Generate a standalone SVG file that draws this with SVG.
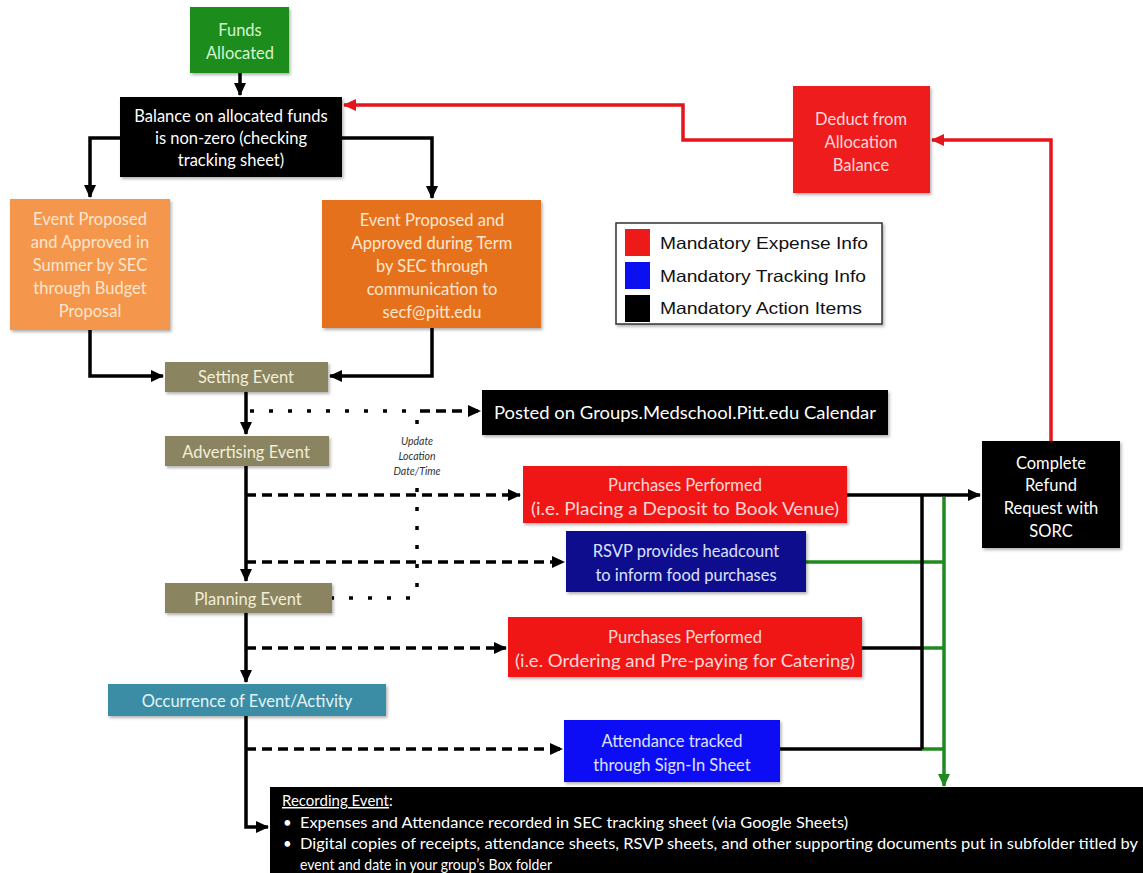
<svg xmlns="http://www.w3.org/2000/svg" width="1143" height="873" viewBox="0 0 1143 873">
<style>
.t{font-family:Lato,"Liberation Sans",sans-serif;font-size:16.5px;text-anchor:middle}
.lg{font-family:"Liberation Sans",Arial,sans-serif;font-size:16.5px;fill:#111}
.ln{fill:none;stroke:#000;stroke-width:3.5}
.dash{stroke-dasharray:10 6}
.dot{stroke-dasharray:4 15}
.red{fill:none;stroke:#e3141a;stroke-width:3.5}
.grn{fill:none;stroke:#1f8a1f;stroke-width:3.5}
.box{filter:url(#sh)}
</style>
<defs>
<filter id="sh" x="-10%" y="-10%" width="130%" height="140%"><feDropShadow dx="1.5" dy="2" stdDeviation="1.5" flood-color="#000" flood-opacity="0.3"/></filter>
<marker id="ab" markerUnits="userSpaceOnUse" markerWidth="14" markerHeight="14" refX="12" refY="7" orient="auto"><path d="M0,1 L13,7 L0,13 Z" fill="#000"/></marker>
<marker id="ar" markerUnits="userSpaceOnUse" markerWidth="14" markerHeight="14" refX="12" refY="7" orient="auto"><path d="M0,1 L13,7 L0,13 Z" fill="#e3141a"/></marker>
<marker id="ag" markerUnits="userSpaceOnUse" markerWidth="14" markerHeight="14" refX="12" refY="7" orient="auto"><path d="M0,1 L13,7 L0,13 Z" fill="#1f8a1f"/></marker>
</defs>
<rect width="1143" height="873" fill="#fff"/>

<g id="connectors">
<path class="ln" d="M240,73 V95" marker-end="url(#ab)"/>
<path class="ln" d="M120,138 H90 V197" marker-end="url(#ab)"/>
<path class="ln" d="M342,138 H432 V198" marker-end="url(#ab)"/>
<path class="ln" d="M90,330 V376 H163" marker-end="url(#ab)"/>
<path class="ln" d="M432,328 V376 H330" marker-end="url(#ab)"/>
<path class="ln" d="M246,392 V434" marker-end="url(#ab)"/>
<path class="ln" d="M246,466 V581" marker-end="url(#ab)"/>
<path class="ln" d="M246,613 V682" marker-end="url(#ab)"/>
<path class="ln" d="M246,716 V827 H268" marker-end="url(#ab)"/>
<path class="ln dot" d="M250,411 H418"/>
<path class="ln dash" d="M420,411 H480" marker-end="url(#ab)"/>
<path class="ln dot" d="M417,420 V428"/>
<path class="ln dot" d="M417,488 V598"/>
<path class="ln dot" d="M330,598 H417"/>
<path class="ln dash" d="M246,495 H520" marker-end="url(#ab)"/>
<path class="ln dash" d="M246,562 H564" marker-end="url(#ab)"/>
<path class="ln dash" d="M246,648 H506" marker-end="url(#ab)"/>
<path class="ln dash" d="M246,749 H562" marker-end="url(#ab)"/>
<path class="grn" d="M806,562 H944"/>
<path class="grn" d="M922,648 H944"/>
<path class="grn" d="M922,749 H944"/>
<path class="ln" d="M847,495 H980" marker-end="url(#ab)"/>
<path class="ln" d="M922,495 V749"/>
<path class="ln" d="M862,648 H922"/>
<path class="ln" d="M780,749 H922"/>
<path class="grn" d="M944,497 V786" marker-end="url(#ag)"/>
<path class="red" d="M1051,441 V140 H932" marker-end="url(#ar)"/>
<path class="red" d="M793,140 H683 V105 H344" marker-end="url(#ar)"/>
<text x="417" y="445" font-family="Lato,'Liberation Sans',sans-serif" font-size="10.5" font-style="italic" fill="#333" text-anchor="middle">Update</text>
<text x="417" y="460" font-family="Lato,'Liberation Sans',sans-serif" font-size="10.5" font-style="italic" fill="#333" text-anchor="middle">Location</text>
<text x="417" y="475" font-family="Lato,'Liberation Sans',sans-serif" font-size="10.5" font-style="italic" fill="#333" text-anchor="middle">Date/Time</text>
</g>

<g id="funds">
<rect class="box" x="190" y="7" width="99" height="66" fill="#1e8c1e"/>
<text class="t" x="240" y="36" fill="#d4f5d0">Funds</text>
<text class="t" x="240" y="59" fill="#d4f5d0">Allocated</text>
</g>
<g id="balance">
<rect class="box" x="120" y="97" width="222" height="80" fill="#000"/>
<text class="t" x="231" y="122" fill="#fff">Balance on allocated funds</text>
<text class="t" x="231" y="144" fill="#fff">is non-zero (checking</text>
<text class="t" x="231" y="166" fill="#fff">tracking sheet)</text>
</g>
<g id="summer">
<rect class="box" x="10" y="199" width="160" height="131" fill="#f4964c"/>
<text class="t" x="90" y="225" fill="#fde6d0">Event Proposed</text>
<text class="t" x="90" y="248" fill="#fde6d0">and Approved in</text>
<text class="t" x="90" y="271" fill="#fde6d0">Summer by SEC</text>
<text class="t" x="90" y="294" fill="#fde6d0">through Budget</text>
<text class="t" x="90" y="317" fill="#fde6d0">Proposal</text>
</g>
<g id="term">
<rect class="box" x="322" y="200" width="219" height="128" fill="#e6711d"/>
<text class="t" x="432" y="226" fill="#fde6d0">Event Proposed and</text>
<text class="t" x="432" y="249" fill="#fde6d0">Approved during Term</text>
<text class="t" x="432" y="272" fill="#fde6d0">by SEC through</text>
<text class="t" x="432" y="295" fill="#fde6d0">communication to</text>
<text class="t" x="432" y="318" fill="#fde6d0">secf@pitt.edu</text>
</g>
<g id="deduct">
<rect class="box" x="793" y="86" width="137" height="107" fill="#ee1a1a"/>
<text class="t" x="861" y="125" fill="#ffd6d6">Deduct from</text>
<text class="t" x="861" y="148" fill="#ffd6d6">Allocation</text>
<text class="t" x="861" y="171" fill="#ffd6d6">Balance</text>
</g>
<g id="legend">
<rect x="616" y="223" width="266" height="101" fill="#fff" stroke="#333" stroke-width="1.5" filter="url(#sh)"/>
<rect x="625" y="229" width="25" height="27" fill="#ee1a1a"/>
<rect x="625" y="262" width="25" height="27" fill="#0a10f0"/>
<rect x="625" y="295" width="25" height="27" fill="#000"/>
<text class="lg" x="660" y="249" textLength="208" lengthAdjust="spacingAndGlyphs">Mandatory Expense Info</text>
<text class="lg" x="660" y="282" textLength="206" lengthAdjust="spacingAndGlyphs">Mandatory Tracking Info</text>
<text class="lg" x="660" y="314" textLength="202" lengthAdjust="spacingAndGlyphs">Mandatory Action Items</text>
</g>
<g id="setting">
<rect class="box" x="165" y="362" width="163" height="30" fill="#8a8460"/>
<text class="t" x="246" y="383" fill="#f3eed8">Setting Event</text>
</g>
<g id="posted">
<rect class="box" x="482" y="390" width="406" height="45" fill="#000"/>
<text class="t" x="685" y="419" fill="#fff" font-size="18" textLength="382" lengthAdjust="spacingAndGlyphs">Posted on Groups.Medschool.Pitt.edu Calendar</text>
</g>
<g id="advertising">
<rect class="box" x="165" y="436" width="164" height="30" fill="#8a8460"/>
<text class="t" x="246" y="458" fill="#f3eed8">Advertising Event</text>
</g>
<g id="purchases1">
<rect class="box" x="523" y="466" width="324" height="57" fill="#f01414"/>
<text class="t" x="685" y="491" fill="#ffd6d6">Purchases Performed</text>
<text class="t" x="685" y="515" fill="#ffd6d6" font-size="17.5" textLength="308" lengthAdjust="spacingAndGlyphs">(i.e. Placing a Deposit to Book Venue)</text>
</g>
<g id="rsvp">
<rect class="box" x="566" y="531" width="240" height="61" fill="#0e0e8e"/>
<text class="t" x="686" y="557" fill="#dde0ff">RSVP provides headcount</text>
<text class="t" x="686" y="581" fill="#dde0ff">to inform food purchases</text>
</g>
<g id="planning">
<rect class="box" x="165" y="583" width="167" height="30" fill="#8a8460"/>
<text class="t" x="248" y="605" fill="#f3eed8">Planning Event</text>
</g>
<g id="purchases2">
<rect class="box" x="508" y="617" width="354" height="60" fill="#f01414"/>
<text class="t" x="685" y="643" fill="#ffd6d6">Purchases Performed</text>
<text class="t" x="685" y="667" fill="#ffd6d6" font-size="17.5" textLength="340" lengthAdjust="spacingAndGlyphs">(i.e. Ordering and Pre-paying for Catering)</text>
</g>
<g id="occurrence">
<rect class="box" x="108" y="684" width="278" height="32" fill="#3a8da5"/>
<text class="t" x="247" y="707" fill="#e2f4f8" font-size="17.5">Occurrence of Event/Activity</text>
</g>
<g id="attendance">
<rect class="box" x="564" y="720" width="216" height="62" fill="#0a10f5"/>
<text class="t" x="672" y="747" fill="#dde0ff">Attendance tracked</text>
<text class="t" x="672" y="771" fill="#dde0ff">through Sign-In Sheet</text>
</g>
<g id="refund">
<rect class="box" x="982" y="441" width="138" height="107" fill="#000"/>
<text class="t" x="1051" y="469" fill="#fff">Complete</text>
<text class="t" x="1051" y="491" fill="#fff">Refund</text>
<text class="t" x="1051" y="514" fill="#fff">Request with</text>
<text class="t" x="1051" y="537" fill="#fff">SORC</text>
</g>
<g id="recording">
<rect x="270" y="787" width="873" height="86" fill="#000"/>
<g font-family="Lato,'Liberation Sans',sans-serif" font-size="15" fill="#fff">
<text x="282" y="806"><tspan text-decoration="underline">Recording Event</tspan>:</text>
<text x="283" y="828">•</text>
<text x="300" y="828" textLength="548" lengthAdjust="spacingAndGlyphs">Expenses and Attendance recorded in SEC tracking sheet (via Google Sheets)</text>
<text x="283" y="849">•</text>
<text x="300" y="849" textLength="838" lengthAdjust="spacingAndGlyphs">Digital copies of receipts, attendance sheets, RSVP sheets, and other supporting documents put in subfolder titled by</text>
<text x="300" y="870" textLength="252" lengthAdjust="spacingAndGlyphs">event and date in your group’s Box folder</text>
</g>
</g>
</svg>
